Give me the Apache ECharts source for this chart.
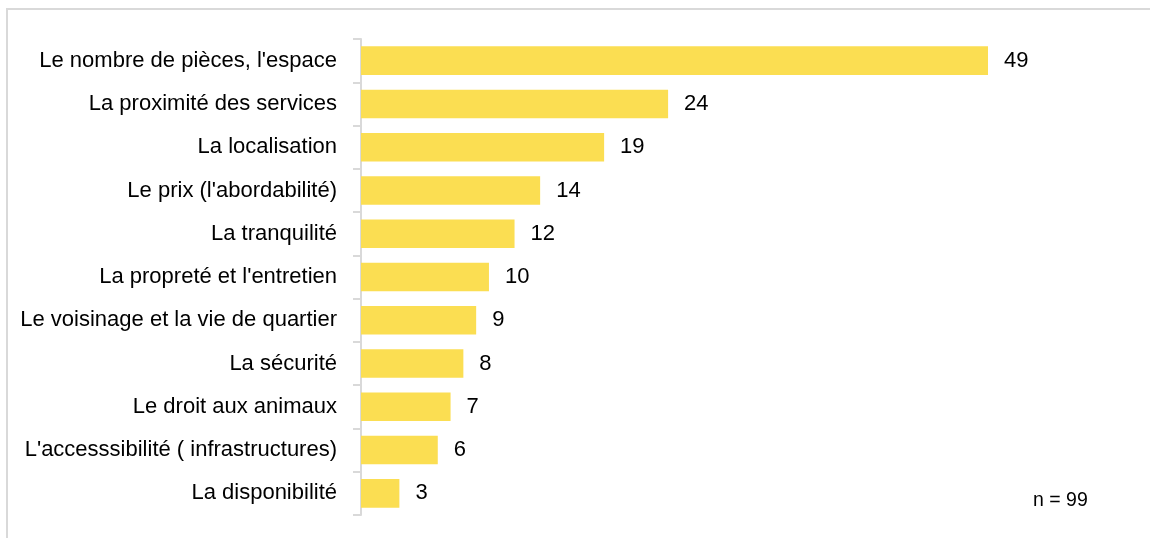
<!DOCTYPE html>
<html>
<head>
<meta charset="utf-8">
<script src="https://cdn.jsdelivr.net/npm/echarts@6/dist/echarts.min.js"></script>
<style>
  html, body { margin: 0; padding: 0; background: #fff; }
  #chart { width: 1150px; height: 538px; }
</style>
</head>
<body>
<div id="chart"></div>
<script>
// Criteria cited for the housing choice (number of mentions)
const categories = [
  "Le nombre de pièces, l'espace",
  "La proximité des services",
  "La localisation",
  "Le prix (l'abordabilité)",
  "La tranquilité",
  "La propreté et l'entretien",
  "Le voisinage et la vie de quartier",
  "La sécurité",
  "Le droit aux animaux",
  "L'accesssibilité ( infrastructures)",
  "La disponibilité"
];
const values = [49, 24, 19, 14, 12, 10, 9, 8, 7, 6, 3];
const sampleNote = "n = 99";

const font = "'Liberation Sans', Arial, sans-serif";
const chart = echarts.init(document.getElementById('chart'), null, { renderer: 'canvas' });

chart.setOption({
  backgroundColor: '#ffffff',
  animation: false,
  grid: { left: 361, right: 162, top: 39, bottom: 23, containLabel: false },
  xAxis: {
    type: 'value',
    min: 0,
    max: 49,
    show: false
  },
  yAxis: {
    type: 'category',
    inverse: true,
    data: categories,
    axisLine: { show: true, lineStyle: { color: '#d9d9d9', width: 2 } },
    axisTick: { show: true, length: 8, lineStyle: { color: '#d9d9d9', width: 2 } },
    axisLabel: { color: '#000', fontFamily: font, fontSize: 22, margin: 24 },
    splitLine: { show: false }
  },
  series: [{
    type: 'bar',
    data: values,
    barCategoryGap: '34%',
    itemStyle: { color: '#FBDE52' },
    label: {
      show: true,
      position: 'right',
      distance: 16,
      color: '#000',
      fontFamily: font,
      fontSize: 22
    }
  }],
  graphic: [
    {
      type: 'rect',
      shape: { x: 7, y: 9, width: 1200, height: 600 },
      style: { fill: 'none', stroke: '#d9d9d9', lineWidth: 2 },
      silent: true
    },
    {
      type: 'text',
      left: 1033,
      top: 491,
      style: { text: sampleNote, fill: '#000', font: '19.5px ' + font }
    }
  ]
});
</script>
</body>
</html>
